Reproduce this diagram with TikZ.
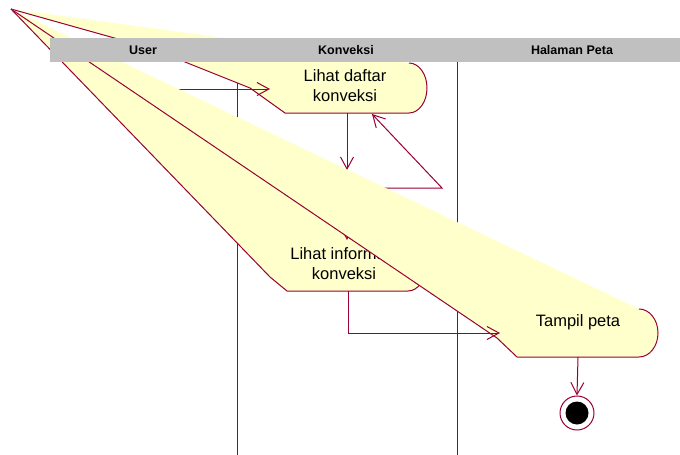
\documentclass[tikz,border=0pt]{standalone}
\usepackage{fontspec}
\setmainfont{Liberation Sans}
\usetikzlibrary{arrows.meta}
\definecolor{rosered}{RGB}{153,0,51}
\definecolor{actfill}{RGB}{255,255,204}
\definecolor{hdrgray}{RGB}{192,192,192}
\begin{document}
\begin{tikzpicture}[x=1pt,y=-1pt,
  edge/.style={draw=rosered,line width=1pt},
  flow/.style={edge,-{Straight Barb[length=12pt,width=13pt,line width=1pt]}},
  actshape/.style={fill=actfill},
  actline/.style={draw=rosered,line width=1pt},
  acttext/.style={font=\fontsize{16.5}{20}\selectfont,align=center,text=black,inner sep=0pt},
  lanetitle/.style={font=\bfseries\fontsize{12.5}{14}\selectfont,inner sep=0pt,text=black},
  lane/.style={draw=rosered,line width=1pt}]
\useasboundingbox (0,0) rectangle (680,455);
\fill[white] (0,0) rectangle (680,455);
\coordinate (apex) at (11,9);
% swimlane separators
\coordinate (l1top) at (237,62); \coordinate (l1bot) at (237,455);
\coordinate (l2top) at (457,62); \coordinate (l2bot) at (457,455);
\draw[lane] (l1top) -- (l1bot);
\draw[lane] (l2top) -- (l2bot);
% activity 1
\fill[actshape] (apex) -- (409,63) arc[start angle=90,end angle=-90,x radius=18pt,y radius=25pt] -- (285,113) -- (250,88) -- (150,48) -- cycle;
\draw[actline] (409,63) arc[start angle=90,end angle=-90,x radius=18pt,y radius=25pt] -- (285,113) -- (250,88) -- (150,48) -- (apex);
\node[acttext] (act1) at (345,86) {Lihat daftar\\konveksi};
\coordinate (a1in) at (270,89);
\coordinate (a1bot) at (347,113);
\coordinate (a1ret) at (372,114);
% transitions drawn before activity 2
\coordinate (init) at (140,89);
\draw[flow] (init) -- (a1in);
\coordinate (dtop) at (347,170);
\coordinate (dright) at (365,188);
\coordinate (dbot) at (347,206);
\coordinate (loopc) at (442,188);
\draw[flow] (a1bot) -- (dtop);
\draw[flow] (dright) -- (loopc) -- (a1ret);
% activity 2
\fill[actshape] (apex) -- (408,240) arc[start angle=90,end angle=-90,x radius=18pt,y radius=25.5pt] -- (287,291) -- (270,277) -- cycle;
\draw[actline] (408,240) arc[start angle=90,end angle=-90,x radius=18pt,y radius=25.5pt] -- (287,291) -- (270,277) -- (apex);
\node[acttext] (act2) at (344,264) {Lihat informasi\\konveksi};
\coordinate (a2top) at (347,240);
\coordinate (a2bot) at (348,291);
\draw[flow] (dbot) -- (a2top);
% activity 3
\fill[actshape] (apex) -- (639,309) arc[start angle=90,end angle=-90,x radius=19pt,y radius=24pt] -- (517,357) -- (497,338) -- cycle;
\draw[actline] (639,309) arc[start angle=90,end angle=-90,x radius=19pt,y radius=24pt] -- (517,357) -- (497,338) -- (apex);
\node[acttext] (act3) at (578,322) {Tampil peta};
\coordinate (a3in) at (500,333);
\coordinate (a3bot) at (578,357);
\coordinate (a2bend) at (348,333);
\draw[flow] (a2bot) -- (a2bend) -- (a3in);
% final state
\node[circle,draw=rosered,fill=white,line width=1pt,minimum size=34pt,inner sep=0pt] (endo) at (577,413) {};
\node[circle,fill=black,minimum size=23pt,inner sep=0pt] (endi) at (endo.center) {};
\draw[flow] (a3bot) -- (endo.north);
% header
\fill[hdrgray] (50,38) rectangle (680,62);
\node[lanetitle] (h1) at (143,50) {User};
\node[lanetitle] (h2) at (346,50) {Konveksi};
\node[lanetitle] (h3) at (572,50) {Halaman Peta};
\end{tikzpicture}
\end{document}
